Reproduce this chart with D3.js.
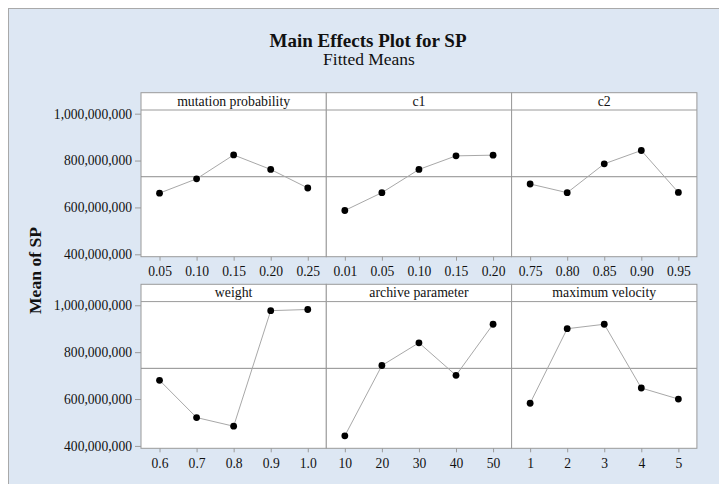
<!DOCTYPE html>
<html>
<head>
<meta charset="utf-8">
<script src="https://cdn.jsdelivr.net/npm/d3@7"></script>
<style>
  body { margin: 0; background: #fff; }
  svg text { font-family: "Liberation Serif", "Times New Roman", serif; fill: #111; }
</style>
</head>
<body>
<svg id="chart" width="719" height="484"></svg>
<script>
// Data
var factors = ['mutation probability', 'c1', 'c2', 'weight', 'archive parameter', 'maximum velocity'];
var levels = [
  ['0.05', '0.10', '0.15', '0.20', '0.25'],
  ['0.01', '0.05', '0.10', '0.15', '0.20'],
  ['0.75', '0.80', '0.85', '0.90', '0.95'],
  ['0.6', '0.7', '0.8', '0.9', '1.0'],
  ['10', '20', '30', '40', '50'],
  ['1', '2', '3', '4', '5']
];
var mutationMeans = [661e6, 722e6, 824e6, 762e6, 683e6];
var c1Means = [587e6, 663e6, 762e6, 820e6, 823e6];
var c2Means = [700e6, 663e6, 786e6, 843e6, 664e6];
var weightMeans = [680e6, 521e6, 484e6, 977e6, 982e6];
var archiveMeans = [443e6, 743e6, 840e6, 701e6, 919e6];
var velocityMeans = [582e6, 900e6, 919e6, 647e6, 600e6];
var grandMean = 731e6;
var yTicks = [400e6, 600e6, 800e6, 1000e6];

var means = [mutationMeans, c1Means, c2Means, weightMeans, archiveMeans, velocityMeans];

var svg = d3.select('#chart');

// Background frame
svg.append('rect')
  .attr('x', 8.5).attr('y', 8.5)
  .attr('width', 740).attr('height', 500)
  .attr('fill', '#dde7f3')
  .attr('stroke', '#a9a9a9');

// Titles
svg.append('text')
  .attr('x', 368).attr('y', 46.5)
  .attr('text-anchor', 'middle')
  .style('font-size', '19px').style('font-weight', 'bold')
  .text('Main Effects Plot for SP');
svg.append('text')
  .attr('x', 369).attr('y', 65)
  .attr('text-anchor', 'middle')
  .style('font-size', '17.5px')
  .text('Fitted Means');

// Panel layout
var gridLeft = 141, colW = 185.3;
var rowTops = [92.7, 284.3];
var stripH = 17.3, plotH = 146.7;

svg.append('text')
  .attr('transform', 'translate(41,' + ((rowTops[0] + rowTops[1] + stripH + plotH) / 2) + ') rotate(-90)')
  .attr('text-anchor', 'middle')
  .style('font-size', '17.6px').style('font-weight', 'bold')
  .text('Mean of SP');

var fmt = d3.format(',');

factors.forEach(function(name, i) {
  var col = i % 3, row = Math.floor(i / 3);
  var x0 = gridLeft + col * colW;
  var top = rowTops[row];
  var plotTop = top + stripH, plotBottom = plotTop + plotH;

  var x = d3.scalePoint().domain(levels[i]).range([x0, x0 + colW]).padding(0.5);
  var y = d3.scaleLinear().domain([389.8e6, 1015.7e6]).range([plotBottom, plotTop]);

  var g = svg.append('g');

  // panel + strip
  g.append('rect')
    .attr('x', x0).attr('y', top).attr('width', colW).attr('height', stripH + plotH)
    .attr('fill', '#fff').attr('stroke', '#9a9a9a');
  g.append('line')
    .attr('x1', x0).attr('x2', x0 + colW).attr('y1', plotTop).attr('y2', plotTop)
    .attr('stroke', '#9a9a9a');
  g.append('text')
    .attr('x', x0 + colW / 2).attr('y', top + 13)
    .attr('text-anchor', 'middle')
    .style('font-size', '13.8px')
    .text(name);

  // mean reference line
  g.append('line')
    .attr('x1', x0).attr('x2', x0 + colW)
    .attr('y1', y(grandMean)).attr('y2', y(grandMean))
    .attr('stroke', '#8c8c8c');

  // x axis
  var xAxis = d3.axisBottom(x).tickSize(4).tickPadding(6);
  var xg = g.append('g').attr('transform', 'translate(0,' + plotBottom + ')').call(xAxis);
  xg.select('.domain').remove();
  xg.selectAll('.tick line').attr('stroke', '#9a9a9a');
  xg.selectAll('.tick text').style('font-size', '13.6px').style('font-family', '"Liberation Serif", serif').attr('fill', '#111');

  // y axis only on first column
  if (col === 0) {
    var yAxis = d3.axisLeft(y).tickValues(yTicks).tickFormat(fmt).tickSize(6).tickPadding(3);
    var yg = g.append('g').attr('transform', 'translate(' + x0 + ',0)').call(yAxis);
    yg.select('.domain').remove();
    yg.selectAll('.tick line').attr('stroke', '#9a9a9a');
    yg.selectAll('.tick text').style('font-size', '13.6px').style('font-family', '"Liberation Serif", serif').attr('fill', '#111');
  }

  var pts = levels[i].map(function(l, k) { return [l, means[i][k]]; });

  g.append('path')
    .datum(pts)
    .attr('fill', 'none')
    .attr('stroke', '#a8a8a8')
    .attr('stroke-width', 1)
    .attr('d', d3.line().x(function(d) { return x(d[0]); }).y(function(d) { return y(d[1]); }));

  g.selectAll('circle')
    .data(pts)
    .join('circle')
      .attr('cx', function(d) { return x(d[0]); })
      .attr('cy', function(d) { return y(d[1]); })
      .attr('r', 3.4)
      .attr('fill', '#000');
});
</script>
</body>
</html>
